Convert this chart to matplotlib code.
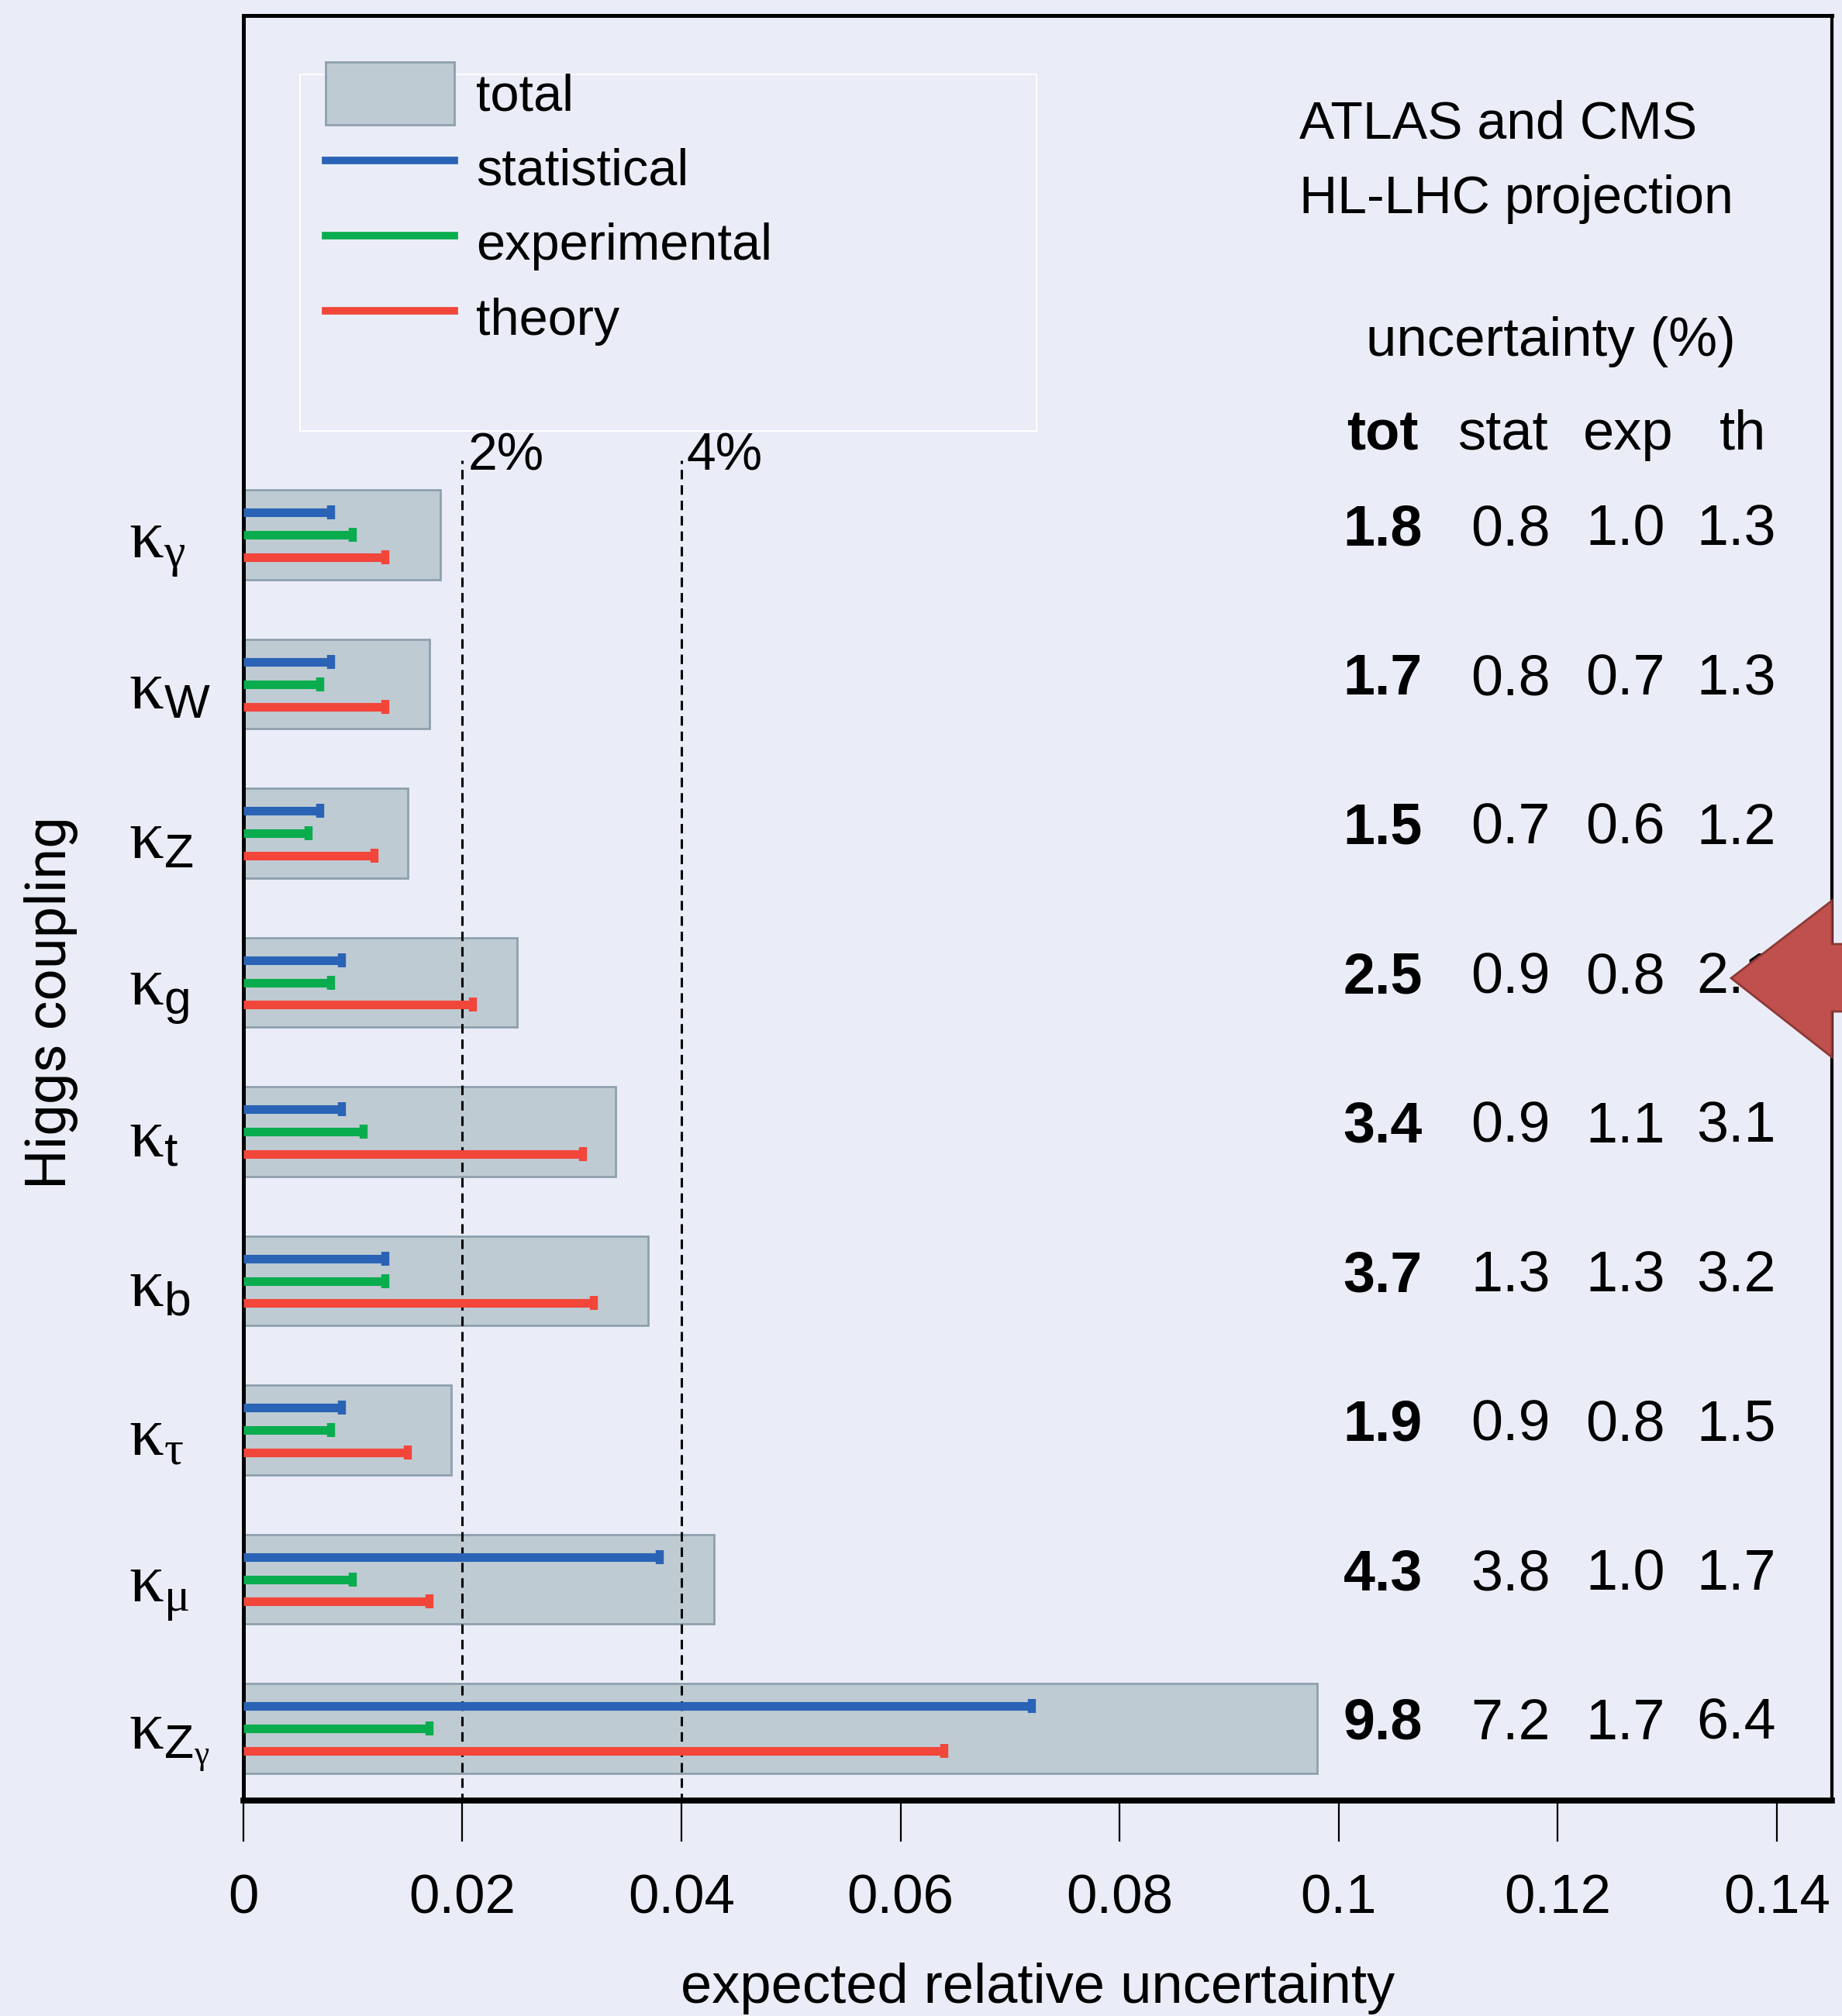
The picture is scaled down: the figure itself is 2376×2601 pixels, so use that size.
import matplotlib
matplotlib.use('Agg')
import matplotlib.pyplot as plt
from matplotlib.patches import Patch, Rectangle, Polygon
from matplotlib.lines import Line2D
import matplotlib.transforms as mtransforms

# Higgs couplings, top to bottom as in the figure
couplings = [r'$\mathrm{\kappa}_{\mathrm{\gamma}}$', r'$\mathrm{\kappa}_{\mathsf{W}}$', r'$\mathrm{\kappa}_{\mathsf{Z}}$',
             r'$\mathrm{\kappa}_{\mathsf{g}}$', r'$\mathrm{\kappa}_{\mathsf{t}}$', r'$\mathrm{\kappa}_{\mathsf{b}}$',
             r'$\mathrm{\kappa}_{\mathrm{\tau}}$', r'$\mathrm{\kappa}_{\mathrm{\mu}}$',
             r'$\mathrm{\kappa}_{\mathsf{Z}_{\mathrm{\gamma}}}$']
# uncertainties in percent
tot = [1.8, 1.7, 1.5, 2.5, 3.4, 3.7, 1.9, 4.3, 9.8]
stat = [0.8, 0.8, 0.7, 0.9, 0.9, 1.3, 0.9, 3.8, 7.2]
exp = [1.0, 0.7, 0.6, 0.8, 1.1, 1.3, 0.8, 1.0, 1.7]
th = [1.3, 1.3, 1.2, 2.1, 3.1, 3.2, 1.5, 1.7, 6.4]

xticks = [0, 0.02, 0.04, 0.06, 0.08, 0.1, 0.12, 0.14]
xticklabels = ['0', '0.02', '0.04', '0.06', '0.08', '0.1', '0.12', '0.14']
ref_lines = [0.02, 0.04]
ref_labels = ['2%', '4%']

bg = '#eaedf7'
c_bar = '#bfcbd3'
c_edge = '#8ea0ae'
c_stat = '#2a63b6'
c_exp = '#0aad4e'
c_th = '#f2463a'

sans = ['Liberation Sans', 'DejaVu Sans']
plt.rcParams['font.family'] = sans
plt.rcParams['mathtext.fontset'] = 'custom'
plt.rcParams['mathtext.rm'] = 'Liberation Serif'
plt.rcParams['mathtext.it'] = 'Liberation Serif:italic'
plt.rcParams['mathtext.sf'] = 'Liberation Sans'

fig = plt.figure(figsize=(23.76, 26.01), dpi=100, facecolor=bg)
ax = fig.add_axes([0.1320, 0.1069, 0.8624, 0.8855], facecolor=bg)

n = len(couplings)
ypos = [n - 1 - i for i in range(n)]

ax.barh(ypos, [t / 100 for t in tot], height=0.6, color=c_bar, edgecolor=c_edge, linewidth=2, zorder=2)

for vals, off, col in [(stat, 0.15, c_stat), (exp, 0.0, c_exp), (th, -0.15, c_th)]:
    for y, v in zip(ypos, vals):
        ax.plot([0, v / 100], [y + off, y + off], color=col, lw=8, solid_capstyle='butt',
                marker='|', markevery=[1], markersize=13, markeredgewidth=7.5, zorder=4)

# dashed reference lines
for xr, lab in zip(ref_lines, ref_labels):
    ax.plot([xr, xr], [-0.5, 8.5], color='black', lw=2.2, ls=(0, (4, 2.5)), zorder=3)
    ax.text(xr + 0.0005, 8.53, lab, fontsize=49, va='center', ha='left')

ax.set_xlim(0, 0.145)
ax.set_ylim(-0.483, 11.483)
ax.set_xticks(xticks)
ax.set_xticklabels(xticklabels)
ax.set_yticks(ypos)
ax.set_yticklabels(couplings, fontsize=64)
for lab in ax.get_yticklabels():
    lab.set_ha('left')
ax.tick_params(axis='y', length=0, pad=106)
ax.tick_params(axis='x', direction='out', length=38, width=1.6, pad=30, labelsize=51)
ax.set_xlabel('expected relative uncertainty', fontsize=52, labelpad=35)

ax.spines['left'].set_linewidth(3.6)
ax.spines['bottom'].set_linewidth(5.5)
ax.spines['top'].set_linewidth(3.6)
ax.spines['right'].set_linewidth(3.0)

fig.text(66 / 2376, 1 - 1294 / 2601, 'Higgs coupling', rotation=90, fontsize=52,
         family=['Roboto', 'DejaVu Sans'], ha='center', va='center')

# legend
handles = [Patch(facecolor=c_bar, edgecolor=c_edge, linewidth=2),
           Line2D([], [], color=c_stat, lw=7),
           Line2D([], [], color=c_exp, lw=7),
           Line2D([], [], color=c_th, lw=7)]
ax.legend(handles, ['total', 'statistical', 'experimental', 'theory'], loc='upper left',
          bbox_to_anchor=(0.052, 0.974), frameon=False, fontsize=48, borderpad=0,
          borderaxespad=0, handlelength=2.49, handleheight=1.49, handletextpad=0.42,
          labelspacing=0.235)
ax.add_patch(Rectangle((0.0356, 0.7673), 0.464, 0.1996, transform=ax.transAxes,
                       facecolor='none', edgecolor='white', lw=1.5, zorder=1))

# table on the right
ax.text(0.6648, 0.9388, 'ATLAS and CMS', transform=ax.transAxes, fontsize=49, va='center', ha='left')
ax.text(0.6648, 0.8970, 'HL-LHC projection', transform=ax.transAxes, fontsize=49, va='center', ha='left')
ax.text(0.7069, 0.8170, 'uncertainty (%)', transform=ax.transAxes, fontsize=51, va='center', ha='left')

header_x = [0.7174, 0.7927, 0.8720, 0.9440]
for hx, hd in zip(header_x, ['tot', 'stat', 'exp', 'th']):
    ax.text(hx, 0.765, hd, transform=ax.transAxes, fontsize=52, va='center', ha='center',
            fontweight='bold' if hd == 'tot' else 'normal')

blend = mtransforms.blended_transform_factory(ax.transAxes, ax.transData)
col_x = [0.7174, 0.7980, 0.8700, 0.9400]
for i, y in enumerate(ypos):
    row = [tot[i], stat[i], exp[i], th[i]]
    for j, (cx, v) in enumerate(zip(col_x, row)):
        ax.text(cx, y + 0.03, f'{v:.1f}', transform=blend, fontsize=53, va='center', ha='center',
                fontweight='bold' if j == 0 else 'normal')

# red arrow pointing at the gluon row
W, H = 2376, 2601
arrow_px = [(2233, 1262), (2363, 1162), (2363, 1218), (2380, 1218),
            (2380, 1305), (2363, 1305), (2363, 1364)]
arrow = Polygon([(x / W, 1 - y / H) for x, y in arrow_px], closed=True, transform=fig.transFigure,
                facecolor='#c0504d', edgecolor='#8c3a37', lw=2, zorder=10)
fig.patches.append(arrow)

fig.savefig('out.png', dpi=100, facecolor=bg)
